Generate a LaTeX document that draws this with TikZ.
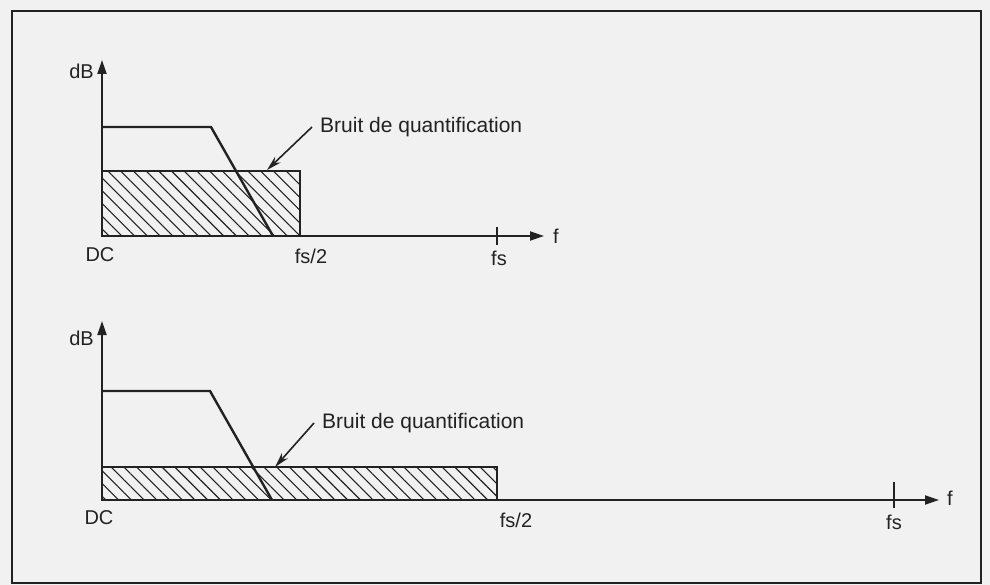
\documentclass[tikz,border=0pt]{standalone}
\usepackage{fontspec}
\setmainfont{Liberation Sans}
\definecolor{ScanPaper}{HTML}{F1F1F1}
\definecolor{ScanInk}{HTML}{222222}
\usetikzlibrary{arrows.meta,positioning,patterns.meta}

\tikzset{
  axisline/.style={draw=ScanInk, line width=2pt, -{Triangle[length=14pt,width=9pt]}},
  response/.style={draw=ScanInk, line width=2.4pt, line join=miter},
  noiseband/.style={draw=ScanInk, line width=1.5pt,
    pattern={Lines[angle=-45,distance=9pt,line width=1.1pt]}, pattern color=ScanInk},
  lbl/.style={text=ScanInk, font=\fontsize{20}{22}\selectfont, inner sep=0pt},
  notelbl/.style={lbl, font=\fontsize{21}{24}\selectfont, inner xsep=8pt, anchor=west},
  fstick/.style={draw=ScanInk, line width=1.5pt},
  pointer/.style={draw=ScanInk, line width=1.6pt, -{Stealth[length=15pt,width=8pt]}}
}

\begin{document}
\begin{tikzpicture}[x=1pt, y=-1pt]
    \useasboundingbox (0,0) rectangle (990,585);
    \fill[ScanPaper] (0,0) rectangle (990,585);
    \draw[ScanInk, line width=2.2pt] (12,11) rectangle (981,583);

    % upper spectrum
    \coordinate (o1) at (102,236);
    \draw[noiseband] (o1) rectangle (300,171);
    \draw[response] (102,127) -- (211,127) -- (273,236);
    \draw[axisline] (o1) -- (102,60);
    \draw[axisline] (o1) -- (544,236);
    \draw[fstick] (497,227) -- (497,245);
    \node[lbl, anchor=east] (db1) at (94,71) {dB};
    \node[lbl] (dc1) at (100,255) {DC};
    \node[lbl] (half1) at (311,256) {fs/2};
    \node[lbl] (fs1) at (499,258) {fs};
    \node[lbl] (f1) at (556,236) {f};
    \node[notelbl] (note1) at (312,127) {Bruit de quantification};
    \coordinate (hit1) at (267,170);
    \draw[pointer] (note1.west) -- (hit1);

    % lower spectrum
    \coordinate (o2) at (102,500);
    \draw[noiseband] (o2) rectangle (497,467);
    \draw[response] (102,391) -- (210,391) -- (272,500);
    \draw[axisline] (o2) -- (102,321);
    \draw[axisline] (o2) -- (939,500);
    \draw[fstick] (894,482) -- (894,508);
    \node[lbl, anchor=east] (db2) at (94,338) {dB};
    \node[lbl] (dc2) at (99,518) {DC};
    \node[lbl] (half2) at (516,520) {fs/2};
    \node[lbl] (fs2) at (894,522) {fs};
    \node[lbl] (f2) at (950,498) {f};
    \node[notelbl] (note2) at (314,423) {Bruit de quantification};
    \coordinate (hit2) at (275,467);
    \draw[pointer] (note2.west) -- (hit2);
  \end{tikzpicture}
\end{document}
